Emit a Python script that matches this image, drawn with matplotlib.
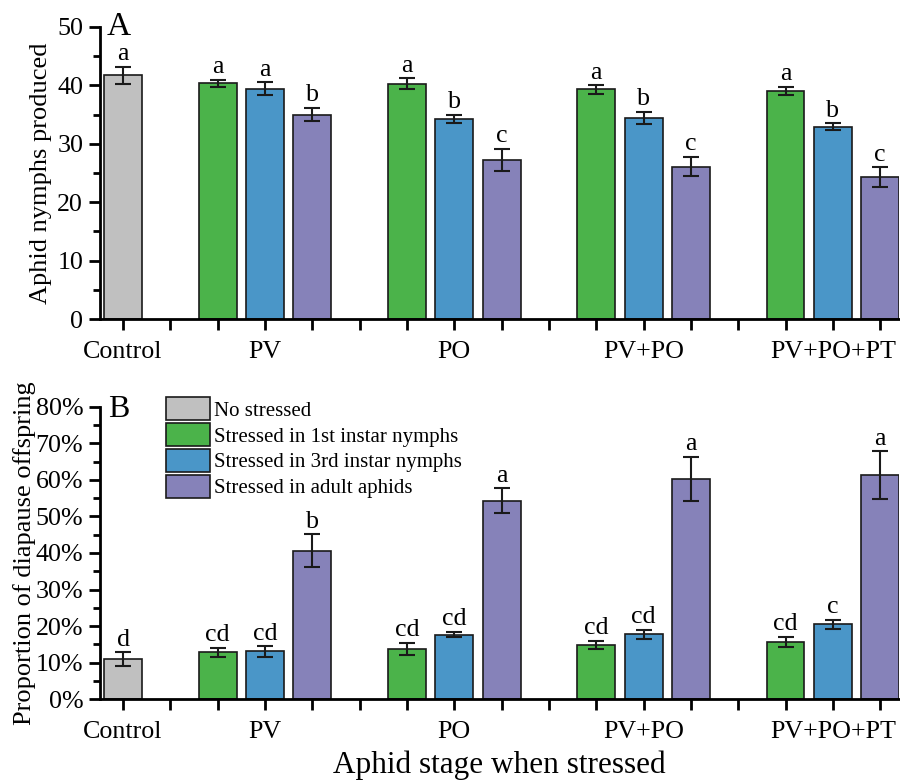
import matplotlib
matplotlib.use("Agg")
import matplotlib.pyplot as plt
import numpy as np
from matplotlib.ticker import MultipleLocator, FuncFormatter

plt.rcParams['font.family'] = ['Liberation Serif', 'DejaVu Serif']

groups = ["Control", "PV", "PO", "PV+PO", "PV+PO+PT"]
series = ["No stressed", "Stressed in 1st instar nymphs",
          "Stressed in 3rd instar nymphs", "Stressed in adult aphids"]
colors = ["#C0C0C0", "#4BB34A", "#4A96C8", "#8682B9"]

# Panel A: nymphs produced (control, then 1st, 3rd, adult per treatment)
nymph_ctrl = 41.7
nymph_ctrl_err = 1.5
nymph_ctrl_lbl = "a"
nymph_1st = [40.4, 40.3, 39.3, 39.0]
nymph_1st_err = [0.6, 0.9, 0.7, 0.7]
nymph_1st_lbl = ["a", "a", "a", "a"]
nymph_3rd = [39.4, 34.2, 34.4, 32.9]
nymph_3rd_err = [1.1, 0.7, 1.05, 0.6]
nymph_3rd_lbl = ["a", "b", "b", "b"]
nymph_adult = [35.0, 27.2, 26.1, 24.3]
nymph_adult_err = [1.15, 1.9, 1.6, 1.65]
nymph_adult_lbl = ["b", "c", "c", "c"]

# Panel B: proportion of diapause offspring (%)
diap_ctrl = 11.0
diap_ctrl_err = 1.8
diap_ctrl_lbl = "d"
diap_1st = [12.8, 13.8, 14.8, 15.7]
diap_1st_err = [1.3, 1.7, 1.15, 1.35]
diap_1st_lbl = ["cd", "cd", "cd", "cd"]
diap_3rd = [13.1, 17.7, 17.8, 20.5]
diap_3rd_err = [1.45, 0.7, 1.2, 1.3]
diap_3rd_lbl = ["cd", "cd", "cd", "c"]
diap_adult = [40.6, 54.3, 60.2, 61.3]
diap_adult_err = [4.45, 3.4, 6.1, 6.5]
diap_adult_lbl = ["b", "a", "a", "a"]

fig = plt.figure(figsize=(9, 7.82), dpi=100)
axA = fig.add_axes([0.111, 0.592, 0.888, 0.3735])
axB = fig.add_axes([0.111, 0.1058, 0.888, 0.3742])

W = 0.8
ctrl_x = 0
tx = [np.array([2, 6, 10, 14]) + k for k in range(3)]
FS = 18.7


def draw(ax, ctrl, ctrl_err, ctrl_lbl, vals, errs, lbls, off):
    kw = dict(width=W, edgecolor="#1a1a1a", linewidth=1.2, zorder=2)
    ekw = dict(ecolor="#1a1a1a", elinewidth=1.5, capsize=6, capthick=1.5)
    ax.bar([ctrl_x], [ctrl], yerr=[ctrl_err], color=colors[0],
           label=series[0], error_kw=ekw, **kw)
    ax.text(ctrl_x, ctrl + ctrl_err + off, ctrl_lbl, ha="center", va="bottom", fontsize=FS)
    for k in range(3):
        ax.bar(tx[k], vals[k], yerr=errs[k], color=colors[k + 1],
               label=series[k + 1], error_kw=ekw, **kw)
        for x, v, e, l in zip(tx[k], vals[k], errs[k], lbls[k]):
            ax.text(x, v + e + off, l, ha="center", va="bottom", fontsize=FS)
    ax.set_xlim(-0.49, 16.4)
    ax.set_xticks(np.arange(0, 17))
    labs = [""] * 17
    for c, g in zip([0, 3, 7, 11, 15], groups):
        labs[c] = g
    ax.set_xticklabels(labs, fontsize=FS)
    for s in ["top", "right"]:
        ax.spines[s].set_visible(False)
    for s in ["left", "bottom"]:
        ax.spines[s].set_linewidth(2)
    ax.tick_params(axis="x", direction="out", length=8, width=2, pad=8)
    ax.tick_params(axis="y", which="major", direction="out", length=8, width=2, labelsize=FS, pad=4)
    ax.tick_params(axis="y", which="minor", direction="out", length=5, width=2)


draw(axA, nymph_ctrl, nymph_ctrl_err, nymph_ctrl_lbl,
     [nymph_1st, nymph_3rd, nymph_adult],
     [nymph_1st_err, nymph_3rd_err, nymph_adult_err],
     [nymph_1st_lbl, nymph_3rd_lbl, nymph_adult_lbl], 0.3)
axA.set_ylim(0, 50)
axA.yaxis.set_major_locator(MultipleLocator(10))
axA.yaxis.set_minor_locator(MultipleLocator(5))
axA.set_ylabel("Aphid nymphs produced", fontsize=19, labelpad=4)
axA.text(0.008, 0.972, "A", transform=axA.transAxes, fontsize=24, ha="left", va="baseline")

draw(axB, diap_ctrl, diap_ctrl_err, diap_ctrl_lbl,
     [diap_1st, diap_3rd, diap_adult],
     [diap_1st_err, diap_3rd_err, diap_adult_err],
     [diap_1st_lbl, diap_3rd_lbl, diap_adult_lbl], 0.4)
axB.set_ylim(0, 80)
axB.yaxis.set_major_locator(MultipleLocator(10))
axB.yaxis.set_minor_locator(MultipleLocator(5))
axB.yaxis.set_major_formatter(FuncFormatter(lambda v, p: f"{v:.0f}%"))
axB.set_ylabel("Proportion of diapause offspring", fontsize=19, labelpad=0)
axB.set_xlabel("Aphid stage when stressed", fontsize=22.5, labelpad=5)
axB.text(0.01, 0.965, "B", transform=axB.transAxes, fontsize=23, ha="left", va="baseline")

h, l = axB.get_legend_handles_labels()
leg = axB.legend(h, l, loc="upper left", bbox_to_anchor=(0.072, 1.06), frameon=False,
                 fontsize=15, handlelength=2.1, handleheight=1.3, handletextpad=0.2,
                 labelspacing=0.12, borderaxespad=0)

fig.savefig("out.png", dpi=100)
